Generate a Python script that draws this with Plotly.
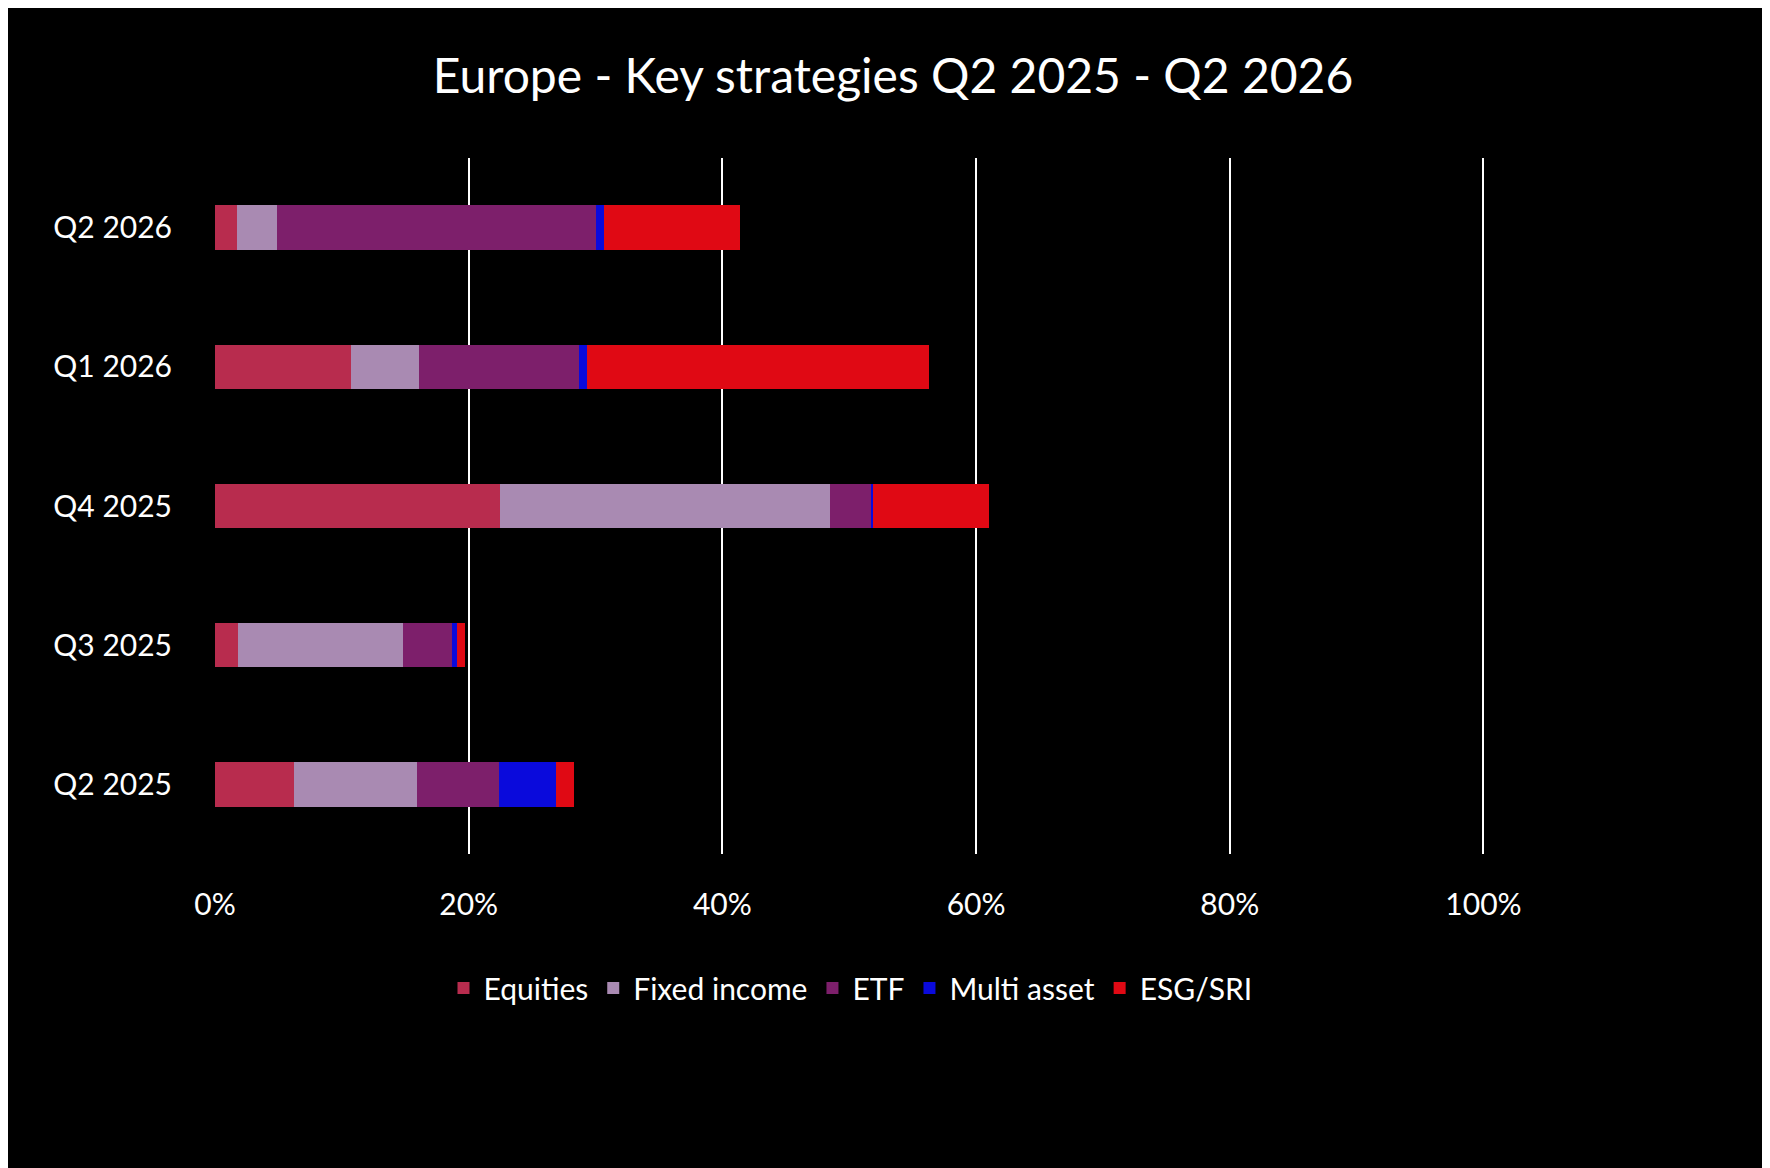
import plotly.graph_objects as go

categories = ["Q2 2025", "Q3 2025", "Q4 2025", "Q1 2026", "Q2 2026"]
equities = [6.2, 1.8, 22.5, 10.7, 1.7]
fixed_income = [9.7, 13.0, 26.0, 5.4, 3.2]
etf = [6.5, 3.9, 3.2, 12.6, 25.1]
multi_asset = [4.5, 0.4, 0.2, 0.6, 0.7]
esg = [1.4, 0.6, 9.1, 27.0, 10.7]

series = [("Equities", equities, "#B82C4E"), ("Fixed income", fixed_income, "#A98AB2"),
          ("ETF", etf, "#7D1F6B"), ("Multi asset", multi_asset, "#0A0ADC"), ("ESG/SRI", esg, "#E00914")]

fig = go.Figure()
for name, vals, col in series:
    fig.add_trace(go.Bar(y=categories, x=vals, name=name, orientation="h",
                         marker=dict(color=col, line=dict(width=0)),
                         hovertemplate="%{x}%<extra>" + name + "</extra>"))

fig.update_layout(
    barmode="stack", bargap=0.68,
    width=1770, height=1168,
    paper_bgcolor="black", plot_bgcolor="black",
    font=dict(family="Lato, Open Sans, sans-serif", color="white", size=30),
    title=dict(text="Europe - Key strategies Q2 2025 - Q2 2026", x=0.5, xanchor="center",
               y=0.942, yanchor="middle", font=dict(size=48, color="white")),
    margin=dict(l=207, r=292, t=150, b=322),
    legend=dict(orientation="h", x=0.5, xanchor="center", y=-0.155, yanchor="top",
                font=dict(size=30, color="white"), traceorder="normal"),
    xaxis=dict(range=[0, 100.2], tickvals=[0, 20, 40, 60, 80, 100],
               ticktext=["0%", "20%", "40%", "60%", "80%", "100%"],
               showgrid=True, gridcolor="white", gridwidth=2, zeroline=False,
               showline=False, tickfont=dict(size=30, color="white"), ticks="",
               ticklabelstandoff=30),
    yaxis=dict(showgrid=False, zeroline=False, showline=False, ticks="",
               tickfont=dict(size=30, color="white"), ticklabelstandoff=42),
)
fig.write_html("out.html")
